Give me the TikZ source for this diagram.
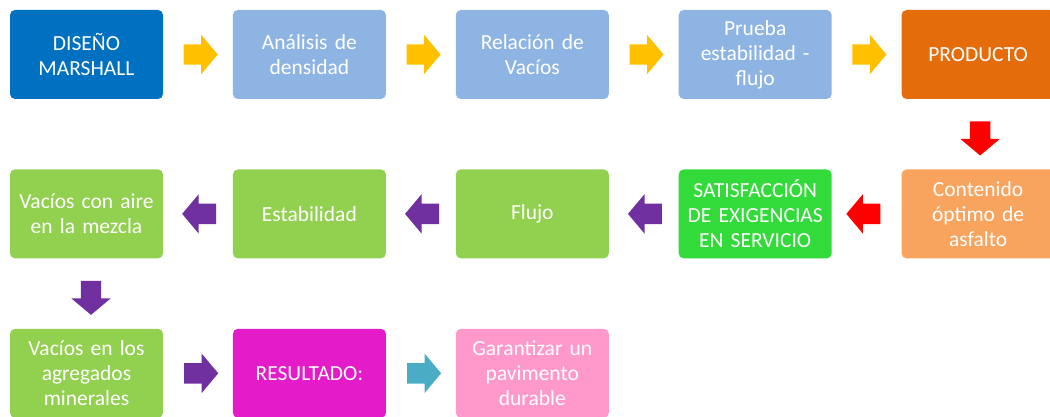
\documentclass[tikz,border=0pt]{standalone}
\usepackage{fontspec}
\setmainfont[WordSpace=0.85]{Carlito}
\usetikzlibrary{positioning,shapes.arrows,calc}

\definecolor{azulM}{HTML}{0070C0}
\definecolor{celeste}{HTML}{8EB4E3}
\definecolor{naranja}{HTML}{E46C0A}
\definecolor{naranjaC}{HTML}{F8A35E}
\definecolor{verdeS}{HTML}{33DB3A}
\definecolor{verde}{HTML}{92D050}
\definecolor{fucsia}{HTML}{E41BC8}
\definecolor{rosa}{HTML}{FF99CC}
\definecolor{amarillo}{HTML}{FFC000}
\definecolor{rojo}{HTML}{FF0000}
\definecolor{morado}{HTML}{7030A0}
\definecolor{turquesa}{HTML}{4BACC6}

\begin{document}
\begin{tikzpicture}[x=1pt,y=1pt,node distance=70pt and 69.5pt,
    caja/.style={rectangle,rounded corners=5pt,minimum width=153pt,minimum height=89pt,
        text width=150pt,align=center,inner sep=0pt,text=white,
        font=\fontsize{21.5}{25}\selectfont},
    flecha/.style={single arrow,minimum height=34pt,minimum width=39pt,inner xsep=0pt,inner ysep=10pt,
        single arrow head extend=9.5pt,single arrow tip angle=100}]
            \useasboundingbox (0,0) rectangle (1050,-417);
            % fila 1
            \node[caja,fill=azulM] (diseno) at (86.5,-54.5) {DISEÑO\\MARSHALL};
            \node[caja,fill=celeste,right=of diseno] (densidad) {Análisis de\\densidad};
            \node[caja,fill=celeste,right=of densidad] (relacion) {Relación de\\Vacíos};
            \node[caja,fill=celeste,right=of relacion] (prueba) {Prueba\\estabilidad -\\flujo};
            \node[caja,fill=naranja,right=of prueba] (producto) {PRODUCTO};
            % fila 2
            \node[caja,fill=naranjaC,below=of producto] (contenido) {Contenido\\óptimo de\\asfalto};
            \node[caja,fill=verdeS,left=of contenido] (satisf) {SATISFACCIÓN\\DE EXIGENCIAS\\EN SERVICIO};
            \node[caja,fill=verde,left=of satisf] (flujo) {Flujo};
            \node[caja,fill=verde,left=of flujo] (estab) {Estabilidad};
            \node[caja,fill=verde,left=of estab] (aire) {Vacíos con aire\\en la mezcla};
            % fila 3
            \node[caja,fill=verde,below=of aire] (agregados) {Vacíos en los\\agregados\\minerales};
            \node[caja,fill=fucsia,right=of agregados] (resultado) {RESULTADO:};
            \node[caja,fill=rosa,right=of resultado] (garantizar) {Garantizar un\\pavimento\\durable};
            % flechas
            \node[flecha,fill=amarillo] (f1) at ($(diseno.east)!0.5!(densidad.west)+(-1.5,0)$) {};
            \node[flecha,fill=amarillo] (f2) at ($(densidad.east)!0.5!(relacion.west)+(-1.5,0)$) {};
            \node[flecha,fill=amarillo] (f3) at ($(relacion.east)!0.5!(prueba.west)+(-1.5,0)$) {};
            \node[flecha,fill=amarillo] (f4) at ($(prueba.east)!0.5!(producto.west)+(-1.5,0)$) {};
            \node[flecha,fill=rojo,rotate=-90] (f5) at ($(producto.south)!0.5!(contenido.north)+(2,0)$) {};
            \node[flecha,fill=rojo,rotate=180] (f6) at ($(contenido.west)!0.5!(satisf.east)+(1,0)$) {};
            \node[flecha,fill=morado,rotate=180] (f7) at ($(satisf.west)!0.5!(flujo.east)+(5.5,0)$) {};
            \node[flecha,fill=morado,rotate=180] (f8) at ($(flujo.west)!0.5!(estab.east)+(5.5,0)$) {};
            \node[flecha,fill=morado,rotate=180] (f9) at ($(estab.west)!0.5!(aire.east)+(5.5,0)$) {};
            \node[flecha,fill=morado,rotate=-90] (f10) at ($(aire.south)!0.5!(agregados.north)+(4.5,0)$) {};
            \node[flecha,fill=morado] (f11) at ($(agregados.east)!0.5!(resultado.west)+(-1,0)$) {};
            \node[flecha,fill=turquesa] (f12) at ($(resultado.east)!0.5!(garantizar.west)+(-1,0)$) {};
        \end{tikzpicture}
\end{document}
